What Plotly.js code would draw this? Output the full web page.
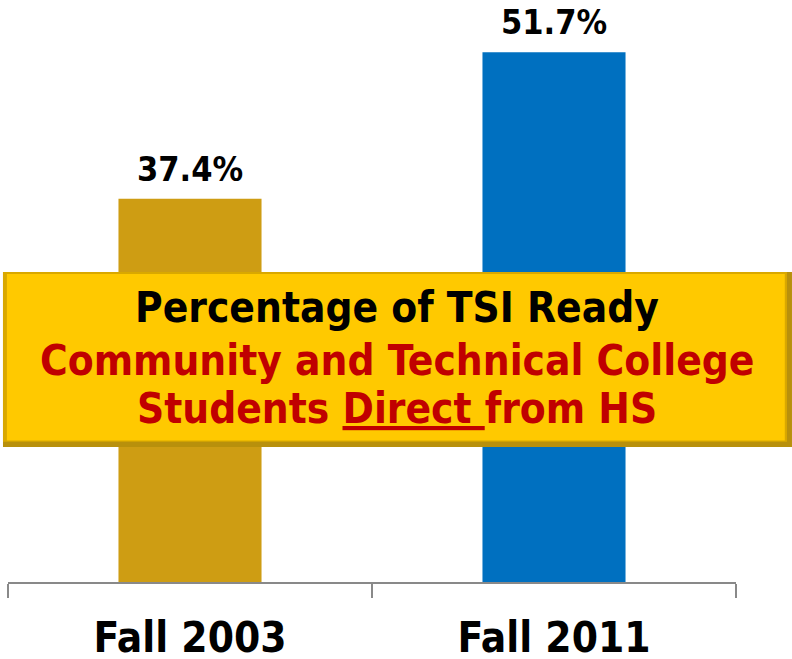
<!DOCTYPE html>
<html>
<head>
<meta charset="utf-8">
<script src="https://cdn.plot.ly/plotly-3.0.1.min.js"></script>
<style>html,body{margin:0;padding:0;background:#fff;}</style>
</head>
<body>
<div id="chart" style="width:792px;height:659px;"></div>
<script>
const categories = ["Fall 2003", "Fall 2011"];
const values = [37.4, 51.7];
const barColors = ["#CE9D13", "#0070C0"];
const titleLines = [
  {text: "Percentage of TSI Ready", color: "#000000"},
  {text: "Community and Technical College", color: "#C00000"},
  {text: "Students <u>Direct </u>from HS", color: "#C00000"}
];

const FONT = "DejaVu Sans Condensed, DejaVu Sans, sans-serif";

const trace = {
  type: "bar",
  x: categories,
  y: values,
  marker: {color: barColors, line: {width: 0}},
  hoverinfo: "none"
};

const annotations = values.map((v, i) => ({
  x: categories[i], y: v, xref: "x", yref: "y",
  text: v.toFixed(1) + "%",
  showarrow: false, yanchor: "bottom", yshift: 9, borderpad: 0,
  font: {family: FONT, size: 34, color: "#000", weight: "bold"}
}));

const lineY = [0.4708, 0.3814, 0.2973];
titleLines.forEach((l, i) => {
  annotations.push({
    x: 0.5343, y: lineY[i], xref: "paper", yref: "paper",
    xanchor: "center", yanchor: "middle",
    text: l.text, showarrow: false,
    font: {family: FONT, size: 42, color: l.color, weight: "bold"}
  });
});

const shapes = [
  {type: "rect", xref: "paper", yref: "paper", layer: "above",
   x0: -0.0069, x1: 1.0769, y0: 0.232, y1: 0.5326,
   fillcolor: "#B8900C", line: {width: 0}},
  {type: "rect", xref: "paper", yref: "paper", layer: "above",
   x0: -0.0069, x1: 1.0700, y0: 0.241, y1: 0.5326,
   fillcolor: "#D9A800", line: {width: 0}},
  {type: "rect", xref: "paper", yref: "paper", layer: "above",
   x0: -0.0015, x1: 1.0670, y0: 0.243, y1: 0.5292,
   fillcolor: "#FFC900", line: {width: 0}}
];

const layout = {
  width: 792, height: 659,
  margin: {l: 8, r: 56, t: 0, b: 77},
  paper_bgcolor: "#fff", plot_bgcolor: "#fff",
  showlegend: false,
  bargap: 0.607,
  xaxis: {
    type: "category",
    showline: true, linecolor: "#898989", linewidth: 1.5,
    ticks: "outside", tickson: "boundaries", ticklen: 14,
    tickcolor: "#898989", tickwidth: 1.5,
    ticklabelstandoff: 18,
    showgrid: false, zeroline: false,
    tickfont: {family: FONT, size: 42, color: "#000", weight: "bold"}
  },
  yaxis: {range: [0, 56.8], visible: false, showgrid: false, zeroline: false},
  shapes: shapes,
  annotations: annotations
};

Plotly.newPlot("chart", [trace], layout, {displayModeBar: false, staticPlot: true});
</script>
</body>
</html>
